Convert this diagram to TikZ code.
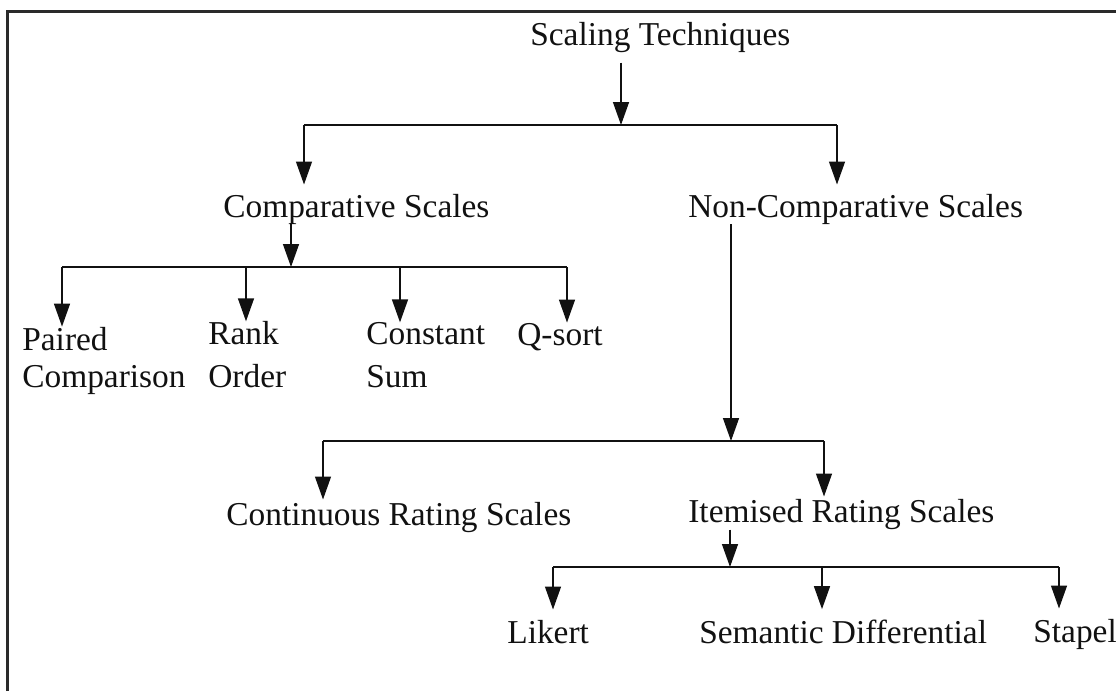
\documentclass[tikz,border=0pt]{standalone}
\usepackage{fontspec}
\setmainfont{Liberation Serif}
\usetikzlibrary{arrows.meta,calc}
\definecolor{Ink}{HTML}{111111}
\definecolor{Rule}{HTML}{2A2A2A}

\begin{document}
\begin{tikzpicture}[x=0.02cm, y=-0.02cm,
    label/.style={anchor=base west, inner sep=0pt, text=Ink, align=left,
      font=\fontsize{19}{24}\selectfont},
    line/.style={draw=Ink, line width=0.8pt},
    arr/.style={line, -{Triangle[length=4.6mm, width=3.2mm]}}]
  \useasboundingbox (0,0) rectangle (1116,691);
  % page frame, open at the right and at the bottom
  \draw[Rule, line width=1.3pt] (7.5,691) -- (7.5,11.5) -- (1116,11.5);

  % labels (two-line ones sit on the baseline of their last line)
  \node[label] (scaling) at (530,45) {Scaling Techniques};
  \node[label] (comp) at (223,217) {Comparative Scales};
  \node[label] (noncomp) at (688,217) {Non-Comparative Scales};
  \node[label] (paired) at (22,387) {Paired\\[-3pt]Comparison};
  \node[label] (rank) at (208,387) {Rank\\Order};
  \node[label] (const) at (366,387) {Constant\\Sum};
  \node[label] (qsort) at (517,345) {Q-sort};
  \node[label] (cont) at (226,525) {Continuous Rating Scales};
  \node[label] (item) at (688,522) {Itemised Rating Scales};
  \node[label] (likert) at (507,643) {Likert};
  \node[label] (sem) at (699,643) {Semantic Differential};
  \node[label] (stapel) at (1033,642) {Stapel};

  % junctions on the bars
  \coordinate (j0) at (621,125);
  \coordinate (dcomp) at (304,125);
  \coordinate (dnon) at (837,125);
  \coordinate (j1) at (291,267);
  \coordinate (dpaired) at (62,267);
  \coordinate (drank) at (246,267);
  \coordinate (dconst) at (400,267);
  \coordinate (dqsort) at (567,267);
  \coordinate (j2) at (731,441);
  \coordinate (dcont) at (323,441);
  \coordinate (ditem) at (824,441);
  \coordinate (j3) at (730,567);
  \coordinate (dlikert) at (553,567);
  \coordinate (dsem) at (822,567);
  \coordinate (dstapel) at (1059,567);

  % scaling techniques
  \draw[arr, shorten <=2mm] (scaling.south -| j0) -- (j0);
  \draw[line] (dcomp) -- (dnon);
  \draw[arr, shorten >=1.8mm] (dcomp) -- (dcomp |- comp.north);
  \draw[arr, shorten >=1.8mm] (dnon) -- (dnon |- noncomp.north);

  % comparative scales
  \draw[arr] (comp.south -| j1) -- (j1);
  \draw[line] (dpaired) -- (dqsort);
  \draw[arr] (dpaired) -- (dpaired |- paired.north);
  \draw[arr] (drank) -- (drank |- rank.north);
  \draw[arr] (dconst) -- (dconst |- const.north);
  \draw[arr] (dqsort) -- (dqsort |- qsort.north);

  % non-comparative scales
  \draw[arr] (noncomp.south -| j2) -- (j2);
  \draw[line] (dcont) -- (ditem);
  \draw[arr, shorten >=0.4mm] (dcont) -- (dcont |- cont.north);
  \draw[arr, shorten >=0.4mm] (ditem) -- (ditem |- item.north);

  % itemised rating scales
  \draw[arr] (item.south -| j3) -- (j3);
  \draw[line] (dlikert) -- (dstapel);
  \draw[arr, shorten >=2mm] (dlikert) -- (dlikert |- likert.north);
  \draw[arr, shorten >=2mm] (dsem) -- (dsem |- sem.north);
  \draw[arr, shorten >=2mm] (dstapel) -- (dstapel |- stapel.north);
\end{tikzpicture}
\end{document}
